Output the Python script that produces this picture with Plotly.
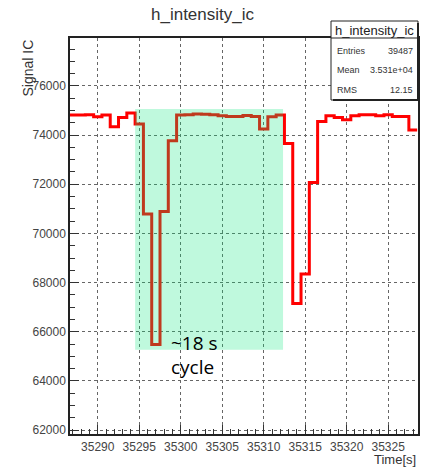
import plotly.graph_objects as go

# ---- data (bin centres in s, contents) ----
bin_centers = list(range(35287, 35329))
signal = [74820, 74820, 74830, 74744, 74813, 74337, 74715, 74894, 74447, 70789,
          65476, 70894, 73768, 74813, 74830, 74854, 74850, 74830, 74785, 74760,
          74760, 74800, 74760, 74244, 74744, 74813, 73659, 67154, 68350, 72073,
          74553, 74785, 74715, 74622, 74785, 74830, 74830, 74785, 74830, 74760,
          74760, 74203]
x_ticks = [35290, 35295, 35300, 35305, 35310, 35315, 35320, 35325]
y_ticks = [62000, 64000, 66000, 68000, 70000, 72000, 74000, 76000]
stats_labels = ["Entries", "Mean", "RMS"]
stats_values = ["39487", "3.531e+04", "12.15"]
highlight_x = [35294.5, 35312.33]
highlight_y = [65272, 75057]
hist_name = "h_intensity_ic"

edges = [c - 0.5 for c in bin_centers] + [bin_centers[-1] + 0.5]
yvals = signal + [signal[-1]]

W, H = 421, 468
L, R, T, B = 70, 3, 38, 34
pw, ph = W - L - R, H - T - B
def px(xp):
    return (xp - L) / pw
def py(yp):
    return (H - B - yp) / ph

fig = go.Figure()
fig.add_trace(go.Scatter(x=edges, y=yvals, mode="lines", line_shape="hv",
                         line=dict(color="#ff0000", width=3), hoverinfo="skip",
                         showlegend=False))

fig.add_shape(type="rect", xref="x", yref="y",
              x0=highlight_x[0], x1=highlight_x[1], y0=highlight_y[0], y1=highlight_y[1],
              fillcolor="rgba(0,230,120,0.25)", line=dict(width=0), layer="above")

tickfont = dict(family="Liberation Sans", size=12, color="#444")
gridstyle = dict(showgrid=True, gridcolor="#666", griddash="dot", gridwidth=1)
fig.update_xaxes(range=[35286.65, 35328.6], tickvals=x_ticks, ticks="inside",
                 ticklen=9, tickcolor="#333", tickwidth=1, tickangle=0, tickformat="d",
                 automargin=False, ticklabelstandoff=1,
                 minor=dict(dtick=1, tick0=35290, ticks="inside", ticklen=5, tickcolor="#333", showgrid=False),
                 showline=True, linecolor="#222", linewidth=1.5, mirror=True,
                 tickfont=tickfont, zeroline=False, **gridstyle)
fig.update_yaxes(range=[61840, 77950], tickvals=y_ticks, ticks="inside",
                 ticklen=9, tickcolor="#333", tickwidth=1, tickformat="d",
                 automargin=False,
                 minor=dict(dtick=500, tick0=62000, ticks="inside", ticklen=5, tickcolor="#333", showgrid=False),
                 showline=True, linecolor="#222", linewidth=1.5, mirror=True,
                 tickfont=tickfont, zeroline=False, **gridstyle)

annotations = [
    dict(text=hist_name, x=(203 - L) / pw, xref="paper", y=py(15), yref="paper",
         showarrow=False, font=dict(family="Liberation Sans", size=17, color="#333"),
         xanchor="center", yanchor="middle"),
    dict(text="Signal IC", x=px(27), y=1.0, xref="paper", yref="paper", textangle=-90,
         showarrow=False, font=dict(family="Liberation Sans", size=14, color="#333"),
         xanchor="center", yanchor="top"),
    dict(text="Time[s]", x=1.0, y=py(459), xref="paper", yref="paper",
         showarrow=False, font=dict(family="Liberation Sans", size=13, color="#333"),
         xanchor="right", yanchor="middle"),
    dict(text="~18 s", x=35298.55, y=65557, xref="x", yref="y", showarrow=False,
         font=dict(family="Open Sans", size=19, color="black"), xanchor="left", yanchor="middle"),
    dict(text="cycle", x=35298.55, y=64560, xref="x", yref="y", showarrow=False,
         font=dict(family="Open Sans", size=19, color="black"), xanchor="left", yanchor="middle"),
]

# stats box
bx0, bx1, by0, by1 = 331, 418, 21, 100
fig.add_shape(type="rect", xref="paper", yref="paper", x0=px(bx0), x1=px(bx1),
              y0=py(by1), y1=py(by0), fillcolor="white", line=dict(color="#222", width=1), layer="above")
fig.add_shape(type="line", xref="paper", yref="paper", x0=px(bx0), x1=px(bx1),
              y0=py(38), y1=py(38), line=dict(color="#222", width=1), layer="above")
fig.add_shape(type="line", xref="paper", yref="paper", x0=px(bx0 + 2), x1=px(bx1),
              y0=py(by1), y1=py(by1), line=dict(color="#222", width=2), layer="above")
fig.add_shape(type="line", xref="paper", yref="paper", x0=px(bx1), x1=px(bx1),
              y0=py(by1), y1=py(by0 + 2), line=dict(color="#222", width=2), layer="above")
annotations.append(dict(text=hist_name, x=px((bx0 + bx1) / 2), y=py(30), xref="paper", yref="paper",
                        showarrow=False, font=dict(family="Liberation Sans", size=13, color="#222"),
                        xanchor="center", yanchor="middle"))
rows_y = [51, 70, 90]
for lab, val, yy in zip(stats_labels, stats_values, rows_y):
    annotations.append(dict(text=lab, x=px(bx0 + 4), y=py(yy), xref="paper", yref="paper",
                            showarrow=False, font=dict(family="Liberation Sans", size=9, color="#333"),
                            xanchor="left", yanchor="middle"))
    annotations.append(dict(text=val, x=px(bx1 - 3), y=py(yy), xref="paper", yref="paper",
                            showarrow=False, font=dict(family="Liberation Sans", size=9, color="#333"),
                            xanchor="right", yanchor="middle"))

fig.update_layout(width=W, height=H, margin=dict(l=L, r=R, t=T, b=B),
                  paper_bgcolor="white", plot_bgcolor="white",
                  annotations=annotations, showlegend=False)
fig.write_html("out.html", config={"displayModeBar": False},
               post_script="document.body.style.margin='0';document.body.style.padding='0';")
